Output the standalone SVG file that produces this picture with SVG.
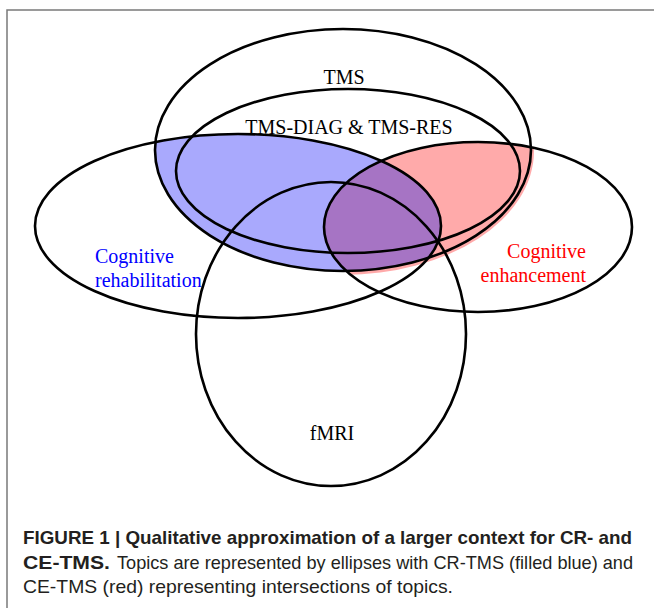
<svg xmlns="http://www.w3.org/2000/svg" width="654" height="608" viewBox="0 0 654 608">
<style>
.o{fill:none;stroke:#000;stroke-width:2.6}
.t{font-family:"Liberation Serif","Times New Roman",serif;font-size:20px;fill:#000}
.cap{font-family:"Liberation Sans",Arial,sans-serif;font-size:18.5px;fill:#231f20}
</style>
<defs>
<clipPath id="cTMS"><ellipse cx="343" cy="150" rx="188" ry="121"/></clipPath>
<clipPath id="cTMSr"><ellipse cx="343" cy="151" rx="191" ry="124"/></clipPath>
<clipPath id="cCR"><ellipse cx="238" cy="226" rx="203" ry="92"/></clipPath>
</defs>
<rect width="654" height="608" fill="#fff"/>
<path d="M7 608V10H654" fill="none" stroke="#7a7a7a" stroke-width="1.5"/>
<g id="regions">
<ellipse cx="238" cy="226" rx="203" ry="92" fill="#a9a9fd" clip-path="url(#cTMS)"/>
<ellipse cx="478" cy="227" rx="154" ry="85" fill="#ffaaaa" clip-path="url(#cTMSr)"/>
<g clip-path="url(#cTMS)"><ellipse cx="478" cy="227" rx="154" ry="85" fill="#a674c4" clip-path="url(#cCR)"/></g>
</g>
<g id="tms"><ellipse class="o" cx="343" cy="150" rx="188" ry="121"/><text class="t" x="344" y="84" text-anchor="middle">TMS</text></g>
<g id="tms-diag-res"><ellipse class="o" cx="348" cy="171" rx="172" ry="82"/><text class="t" x="349" y="134" text-anchor="middle">TMS-DIAG &amp; TMS-RES</text></g>
<g id="cognitive-rehabilitation"><ellipse class="o" cx="238" cy="226" rx="203" ry="92"/><text class="t" x="95" y="263" style="fill:#0000ff">Cognitive</text><text class="t" x="95" y="287" style="fill:#0000ff">rehabilitation</text></g>
<g id="cognitive-enhancement"><ellipse class="o" cx="478" cy="227" rx="154" ry="85"/><text class="t" x="586" y="258" text-anchor="end" style="fill:#ff0000">Cognitive</text><text class="t" x="586" y="282" text-anchor="end" style="fill:#ff0000">enhancement</text></g>
<g id="fmri"><ellipse class="o" cx="331" cy="334" rx="135" ry="152"/><text class="t" x="332" y="440" text-anchor="middle">fMRI</text></g>
<g id="caption">
<text class="cap" x="23" y="544" font-weight="bold" textLength="609" lengthAdjust="spacingAndGlyphs">FIGURE 1 | Qualitative approximation of a larger context for CR- and</text>
<text class="cap" x="23" y="569" font-weight="bold" textLength="87" lengthAdjust="spacingAndGlyphs">CE-TMS.</text>
<text class="cap" x="117" y="569" textLength="516" lengthAdjust="spacingAndGlyphs">Topics are represented by ellipses with CR-TMS (filled blue) and</text>
<text class="cap" x="23" y="593" textLength="430" lengthAdjust="spacingAndGlyphs">CE-TMS (red) representing intersections of topics.</text>
</g>
</svg>
